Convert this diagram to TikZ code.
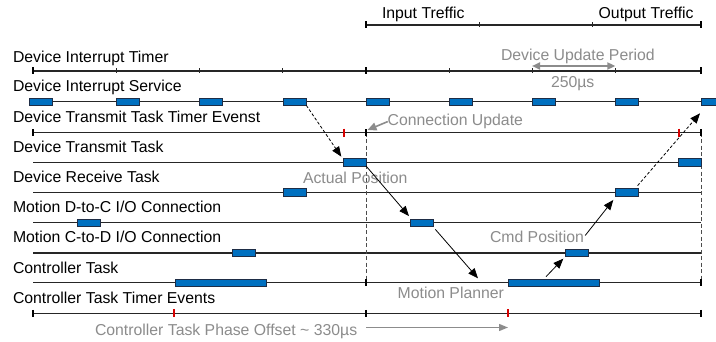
\documentclass[tikz,border=0pt]{standalone}
\usepackage{fontspec}
\setmainfont{Liberation Sans}
\usetikzlibrary{arrows.meta,calc}
\definecolor{boxblue}{RGB}{0,112,192}
\definecolor{boxedge}{RGB}{30,45,70}
\definecolor{lbl}{RGB}{140,140,140}
\definecolor{tickred}{RGB}{215,0,0}
\begin{document}
\begin{tikzpicture}[x=1pt,y=-1pt,
  font=\fontsize{15.8}{18}\selectfont,
  txt/.style={anchor=base west, inner sep=0pt, outer sep=0pt},
  gtxt/.style={txt, text=lbl},
  axis/.style={line width=1.3pt, black!85},
  tk/.style={line width=0.9pt, black!85},
  endtk/.style={line width=2.2pt, black},
  redtk/.style={line width=2pt, tickred},
  vdash/.style={line width=0.8pt, black!70, dash pattern=on 4pt off 2.5pt},
  bx/.style={draw=boxedge, line width=0.8pt, fill=boxblue, minimum height=7.3pt, inner sep=0pt, outer sep=0pt, anchor=west, minimum width=#1},
  bx/.default=23.3pt,
  arr/.style={-{Triangle[length=10pt,width=8pt]}, line width=0.8pt, black},
  garr/.style={-{Triangle[length=9pt,width=7pt]}, line width=1.3pt, lbl},
  gdarr/.style={{Triangle[length=8pt,width=7pt]}-{Triangle[length=8pt,width=7pt]}, line width=2pt, lbl}
]
\useasboundingbox[fill=white] (0,0) rectangle (716,342);

% ---- top axis
\draw[axis] (366,25) -- (701,25);
\draw[endtk] (366,21.5) -- (366,28.5);
\draw[endtk] (701,21.5) -- (701,28.5);
\draw[tk] (479.3,22.5) -- (479.3,27.5);
\draw[tk] (592.7,22.5) -- (592.7,27.5);
\node[txt] (intr) at (382,19) {Input Treffic};
\node[txt] (outtr) at (598.7,19) {Output Treffic};

% ---- row labels
\node[txt] (r1) at (13,62.5) {Device Interrupt Timer};
\node[txt] (r2) at (13,91.7) {Device Interrupt Service};
\node[txt] (r3) at (13,122.5) {Device Transmit Task Timer Evenst};
\node[txt] (r4) at (13,152.5) {Device Transmit Task};
\node[txt] (r5) at (13,182.5) {Device Receive Task};
\node[txt] (r6) at (13,212.5) {Motion D-to-C I/O Connection};
\node[txt] (r7) at (13,242.8) {Motion C-to-D I/O Connection};
\node[txt] (r8) at (13,273.2) {Controller Task};
\node[txt] (r9) at (13,303.5) {Controller Task Timer Events};

% ---- row lines
\draw[axis] (33,71) -- (701,71);
\draw[axis] (33,101.7) -- (701,101.7);
\draw[axis] (33,132.7) -- (701,132.7);
\draw[axis] (33,162.3) -- (701,162.3);
\draw[axis] (33,192.3) -- (701,192.3);
\draw[axis] (33,222.7) -- (701,222.7);
\draw[axis] (33,253) -- (701,253);
\draw[axis] (33,282.7) -- (701,282.7);
\draw[axis] (33,313.3) -- (701,313.3);

% ---- dashed verticals
\draw[vdash] (366,132.7) -- (366,282.7);
\draw[vdash] (701,132.7) -- (701,282.7);

% ---- Device Interrupt Timer ticks
\foreach \x in {33,366,701} \draw[endtk] (\x,67.5) -- (\x,74.5);
\foreach \x in {116.3,199.3,282.7,449,532,615.3} \draw[tk] (\x,68.5) -- (\x,73.5);

% ---- Device Transmit Task Timer Events ticks
\foreach \x in {33,366,701} \draw[endtk] (\x,129.2) -- (\x,136.2);
\foreach \x in {344,678.7} \draw[redtk] (\x,128.7) -- (\x,136.7);

% ---- Controller Task ticks
\foreach \x in {366,701} \draw[endtk] (\x,279.2) -- (\x,286.2);

% ---- Controller Task Timer Events ticks
\foreach \x in {33,366,701} \draw[endtk] (\x,309.8) -- (\x,316.8);
\foreach \x in {173.7,508.3} \draw[redtk] (\x,309.3) -- (\x,317.3);

% ---- boxes: Device Interrupt Service
\node[bx] (dis1) at (29.3,101.7) {};
\node[bx] (dis2) at (116.3,101.7) {};
\node[bx] (dis3) at (199.3,101.7) {};
\node[bx] (dis4) at (283,101.7) {};
\node[bx] (dis5) at (366,101.7) {};
\node[bx] (dis6) at (449,101.7) {};
\node[bx] (dis7) at (532,101.7) {};
\node[bx] (dis8) at (615.3,101.7) {};
\node[bx] (dis9) at (701,101.7) {};
% Device Transmit Task
\node[bx=22.7pt] (dtt1) at (343.3,162.3) {};
\node[bx=22.3pt] (dtt2) at (678.7,162.3) {};
% Device Receive Task
\node[bx] (drt1) at (283.3,192.3) {};
\node[bx] (drt2) at (615.3,192.3) {};
% Motion D-to-C
\node[bx] (dc1) at (77.3,222.7) {};
\node[bx] (dc2) at (410,222.7) {};
% Motion C-to-D
\node[bx] (cd1) at (232.3,253) {};
\node[bx] (cd2) at (565.3,253) {};
% Controller Task
\node[bx=91pt] (ct1) at (175.3,282.7) {};
\node[bx=91pt] (ct2) at (508.3,282.7) {};

% ---- gray labels
\node[gtxt] (dup) at (501,60.7) {Device Update Period};
\node[gtxt] (us) at (551,88) {250µs};
\node[gtxt] (cu) at (387.7,125.7) {Connection Update};
\node[gtxt] (ap) at (303,184) {Actual Position};
\node[gtxt] (cmd) at (490,242.7) {Cmd Position};
\node[gtxt] (mpl) at (397.7,298.7) {Motion Planner};
\node[gtxt] (ph) at (95,335) {Controller Task Phase Offset \textasciitilde{} 330µs};

% ---- coordinates for free ends
\coordinate (dupa) at (532,66);
\coordinate (dupb) at (615.3,66);
\coordinate (cutip) at (367.5,130);
\coordinate (mptip) at (478,278.3);
\coordinate (ctsrc) at (546,276.7);
\coordinate (pha) at (366,327.5);
\coordinate (phb) at (508,327.5);

% ---- connectors
\draw[gdarr] (dupa) -- (dupb);
\draw[garr, line width=1.6pt, -{Triangle[length=9pt,width=8pt]}] (cu.west) -- (cutip);
\draw[garr] (pha) -- (phb);
\draw[arr, dash pattern=on 3pt off 2pt] (dis4.south east) -- ([shift={(-2,-2)}]dtt1.north west);
\draw[arr] (dtt1.south east) -- ([shift={(-1,-3)}]dc2.north west);
\draw[arr] ([shift={(2,3)}]dc2.south east) -- (mptip);
\draw[arr] (ctsrc) -- ([shift={(-2,2)}]cd2.south west);
\draw[arr, shorten <=2pt] (cmd.east) -- ([shift={(-2,4)}]drt2.south west);
\draw[arr, dash pattern=on 3pt off 2pt] ([shift={(-1,-3)}]drt2.north east) -- ([shift={(-1,8)}]dis9.south west);
\end{tikzpicture}
\end{document}
